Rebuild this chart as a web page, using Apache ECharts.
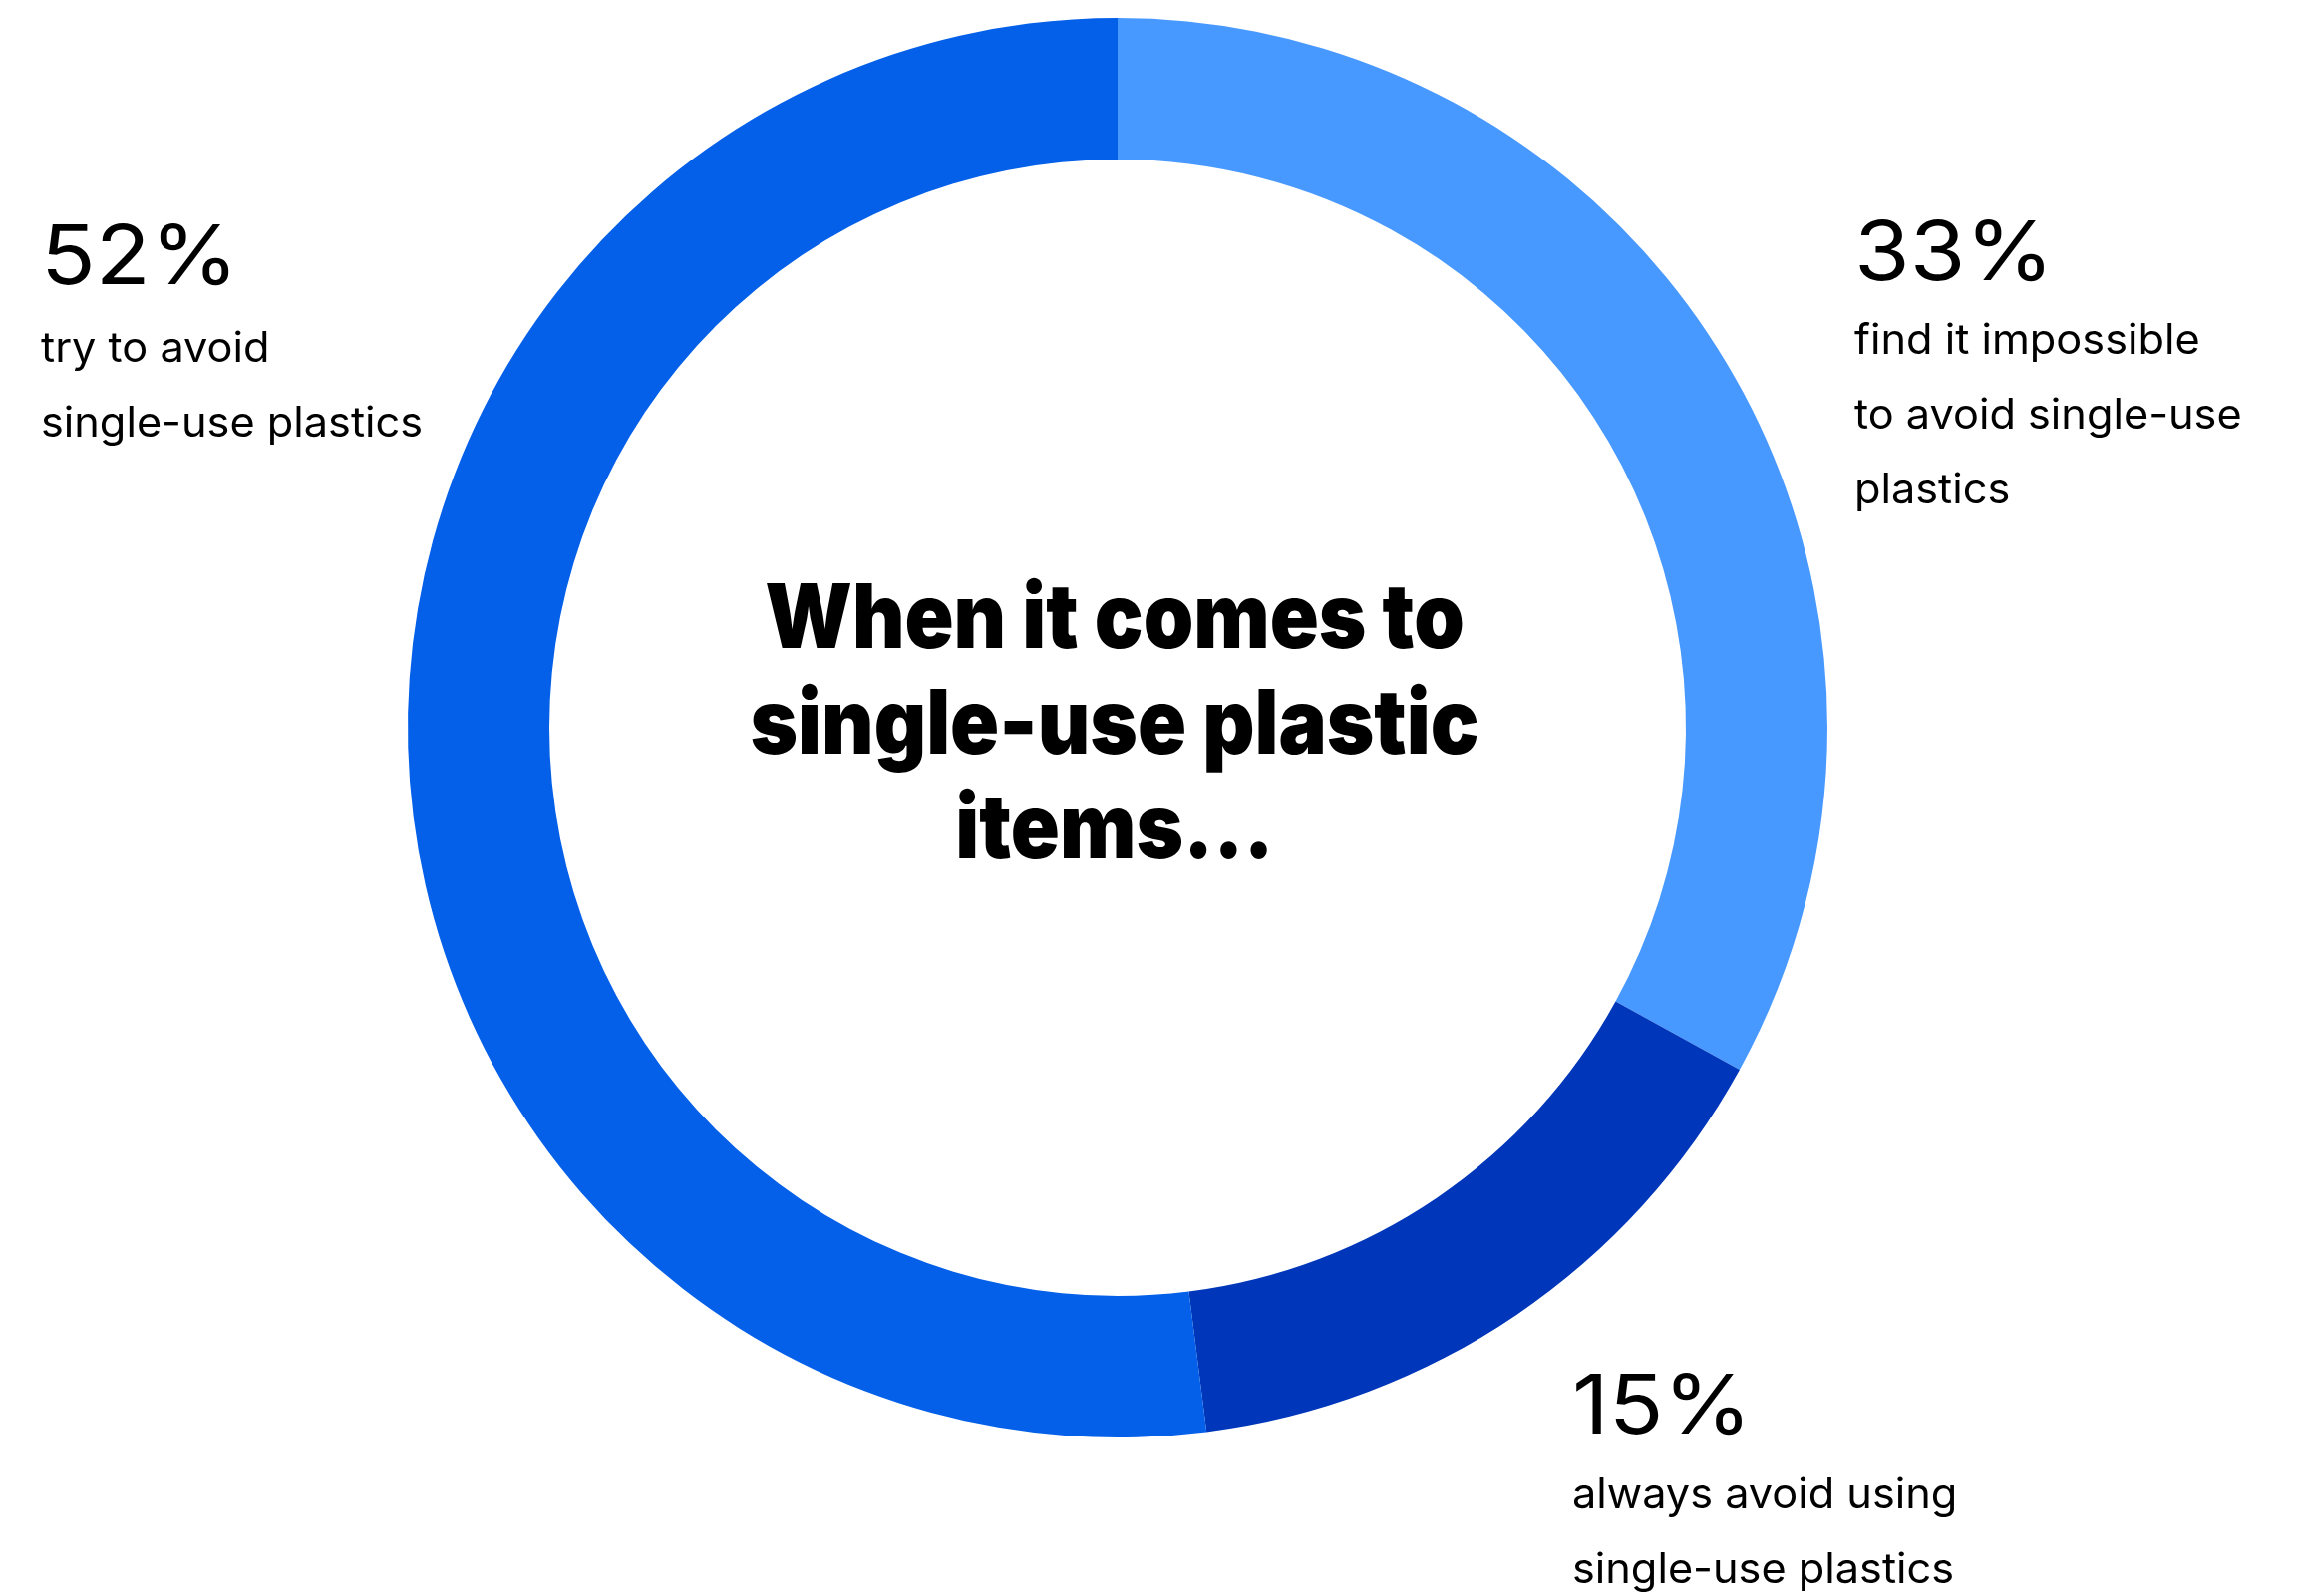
<!DOCTYPE html>
<html>
<head>
<meta charset="utf-8">
<script src="https://cdn.jsdelivr.net/npm/echarts@6/dist/echarts.min.js"></script>
<style>
html,body{margin:0;padding:0;background:#fff;}
#chart{width:2304px;height:1601px;}
</style>
</head>
<body>
<div id="chart"></div>
<script>
// ---- data ----
const categories = ['find it impossible to avoid single-use plastics', 'always avoid using single-use plastics', 'try to avoid single-use plastics'];
const values = [33, 15, 52];
const descLines = [
  ['find it impossible', 'to avoid single-use', 'plastics'],
  ['always avoid using', 'single-use plastics'],
  ['try to avoid', 'single-use plastics']
];
const sliceColors = ['#4899FF', '#0036B9', '#0460E9'];
const titleLines = ['When it comes to', 'single-use plastic', 'items...'];

// ---- layout (positions only) ----
const labelPos = [
  {x: 1860, base: 286, descBase: 357},
  {x: 1577, base: 1443, descBase: 1515},
  {x: 41, base: 290, descBase: 365}
];
const pctSize = 82, pctScaleX = 1.1;
const descSize = 42, descScaleX = 1.03, descGap = 75;
const titleSize = 90, titleScaleX = 0.9;
const FONT = 'Inter, "Noto Sans", sans-serif';

const chart = echarts.init(document.getElementById('chart'), null, {renderer: 'canvas'});

const graphics = [];
values.forEach((v, i) => {
  const p = labelPos[i];
  graphics.push({
    type: 'text', x: p.x, y: p.base - 0.36 * pctSize, scaleX: pctScaleX, silent: true,
    style: {text: v + '%', font: '400 ' + pctSize + 'px ' + FONT, fill: '#000', align: 'left', verticalAlign: 'middle'}
  });
  descLines[i].forEach((line, j) => {
    graphics.push({
      type: 'text', x: p.x, y: p.descBase + j * descGap - 0.36 * descSize, scaleX: descScaleX, silent: true,
      style: {text: line, font: '400 ' + descSize + 'px ' + FONT, fill: '#000', align: 'left', verticalAlign: 'middle'}
    });
  });
});
const titleBases = [655, 761, 866];
titleLines.forEach((line, j) => {
  graphics.push({
    type: 'text', x: 1118, y: titleBases[j] - 0.36 * titleSize, scaleX: titleScaleX, silent: true,
    style: {text: line, font: '900 ' + titleSize + 'px ' + FONT, fill: '#000', align: 'center', verticalAlign: 'middle'}
  });
});

chart.setOption({
  backgroundColor: '#fff',
  animation: false,
  series: [{
    type: 'pie',
    center: [1121, 730],
    radius: [570, 712],
    startAngle: 90,
    clockwise: true,
    silent: true,
    label: {show: false},
    labelLine: {show: false},
    itemStyle: {borderWidth: 0},
    emphasis: {disabled: true},
    data: values.map((v, i) => ({name: categories[i], value: v, itemStyle: {color: sliceColors[i]}}))
  }],
  graphic: graphics
});
</script>
</body>
</html>
